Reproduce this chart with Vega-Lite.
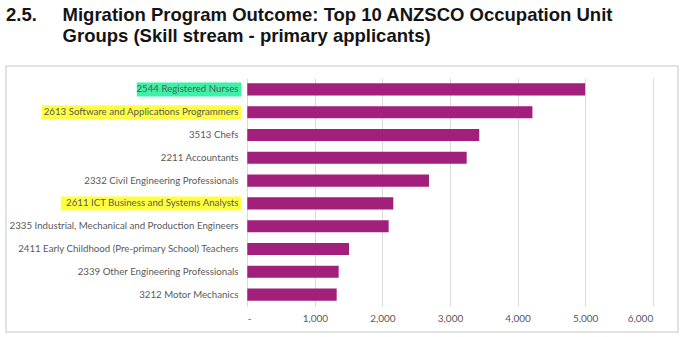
{
  "$schema": "https://vega.github.io/schema/vega-lite/v6.json",
  "width": 672,
  "height": 266,
  "autosize": "none",
  "padding": {"left": 6, "top": 66, "right": 6, "bottom": 5},
  "background": "white",
  "config": {
    "view": {"stroke": "#d9d9d9", "strokeWidth": 1.5},
    "font": "Lato"
  },
  "title": {
    "text": [
      "2.5.\u00a0\u00a0\u00a0\u00a0\u00a0Migration Program Outcome: Top 10 ANZSCO Occupation Unit",
      "\u200b\u00a0\u00a0\u00a0\u00a0\u00a0\u00a0\u00a0\u00a0\u00a0\u00a0\u00a0Groups (Skill stream - primary applicants)"
    ],
    "anchor": "start",
    "frame": "group",
    "font": "Liberation Sans",
    "fontSize": 18.5,
    "fontWeight": "bold",
    "color": "#141414",
    "lineHeight": 21,
    "offset": 21
  },
  "data": {
    "values": [
      {"occupation": "2544 Registered Nurses", "value": 5000, "highlight": "green"},
      {"occupation": "2613 Software and Applications Programmers", "value": 4220, "highlight": "yellow"},
      {"occupation": "3513 Chefs", "value": 3433, "highlight": "none"},
      {"occupation": "2211 Accountants", "value": 3247, "highlight": "none"},
      {"occupation": "2332 Civil Engineering Professionals", "value": 2689, "highlight": "none"},
      {"occupation": "2611 ICT Business and Systems Analysts", "value": 2161, "highlight": "yellow"},
      {"occupation": "2335 Industrial, Mechanical and Production Engineers", "value": 2092, "highlight": "none"},
      {"occupation": "2411 Early Childhood (Pre-primary School) Teachers", "value": 1505, "highlight": "none"},
      {"occupation": "2339 Other Engineering Professionals", "value": 1352, "highlight": "none"},
      {"occupation": "3212 Motor Mechanics", "value": 1323, "highlight": "none"}
    ]
  },
  "encoding": {
    "y": {
      "field": "occupation",
      "type": "nominal",
      "sort": null,
      "scale": {"range": [12, 240], "paddingInner": 0.47, "paddingOuter": 0.235},
      "axis": {
        "title": null,
        "orient": "left",
        "offset": -236,
        "domain": false,
        "ticks": false,
        "tickSize": 0,
        "labelPadding": 4,
        "labelFont": "Lato",
        "labelFontSize": 9.7,
        "labelColor": "#595959",
        "labelLimit": 400,
        "zindex": 1
      }
    }
  },
  "layer": [
    {
      "mark": {
        "type": "bar",
        "height": 14,
        "xOffset": {"expr": "-6 - 4.75 * length(datum.occupation)"},
        "x2Offset": -6
      },
      "encoding": {
        "x": {"datum": 0, "type": "quantitative", "scale": {"domain": [0, 6000], "range": [241.3, 646.7], "nice": false}},
        "x2": {"datum": 0},
        "color": {
          "field": "highlight",
          "type": "nominal",
          "scale": {"domain": ["green", "yellow", "none"], "range": ["#3DF2A6", "#FFFF40", "rgba(0,0,0,0)"]},
          "legend": null
        }
      }
    },
    {
      "mark": {"type": "bar", "color": "#A21F7C"},
      "encoding": {
        "x": {
          "field": "value",
          "type": "quantitative",
          "scale": {"domain": [0, 6000], "range": [241.3, 646.7], "nice": false},
          "axis": {
            "title": null,
            "orient": "top",
            "offset": -257,
            "values": [0, 1000, 2000, 3000, 4000, 5000, 6000],
            "grid": true,
            "gridColor": "#d9d9d9",
            "gridWidth": 1,
            "domain": false,
            "ticks": false,
            "tickSize": 0,
            "labelPadding": 0,
            "labelFont": "Lato",
            "labelFontSize": 10,
            "labelColor": "#595959",
            "labelExpr": "datum.value === 0 ? '-' : format(datum.value, ',')"
          }
        }
      }
    }
  ]
}
